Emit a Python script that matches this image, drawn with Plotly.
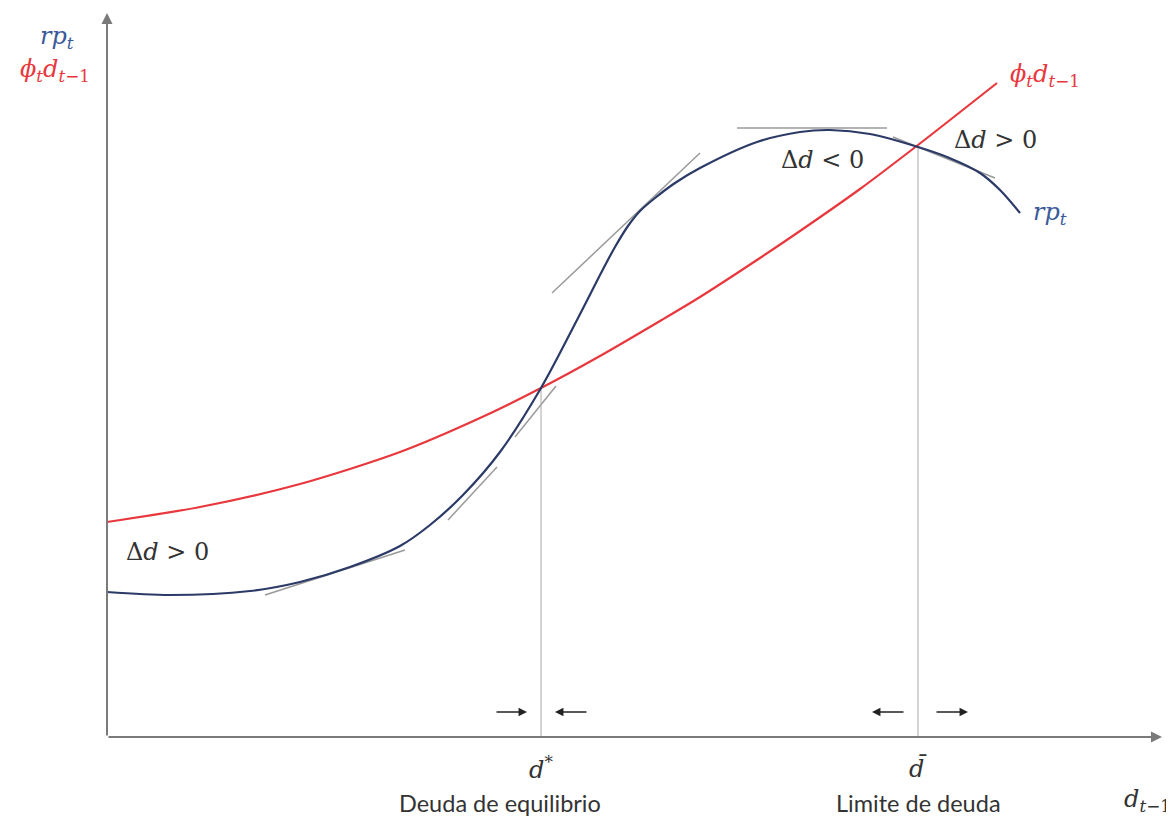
import plotly.graph_objects as go

# Chart units: x = debt d_{t-1}, y = value (origin at axes intersection)
red_x = [0.00, 0.93, 1.93, 2.93, 3.73, 4.34, 4.93, 5.53, 5.93, 6.53, 6.93, 7.53, 8.11, 8.90]
red_y = [2.15, 2.30, 2.53, 2.85, 3.19, 3.49, 3.81, 4.16, 4.40, 4.79, 5.06, 5.48, 5.92, 6.54]

blue_x = [0.00, 0.63, 1.43, 1.93, 2.43, 2.93, 3.23, 3.56, 3.93, 4.34, 4.70, 4.93, 5.08, 5.21,
          5.33, 5.48, 5.68, 5.93, 6.50, 6.93, 7.23, 7.63, 8.11, 8.40, 8.73, 8.93, 9.13]
blue_y = [1.45, 1.42, 1.46, 1.55, 1.70, 1.91, 2.12, 2.42, 2.85, 3.49, 4.17, 4.62, 4.90, 5.11,
          5.26, 5.39, 5.54, 5.69, 5.95, 6.05, 6.07, 6.03, 5.90, 5.80, 5.64, 5.47, 5.24]

# tangent segments (start x, start y, end x, end y)
tangents = [
    (1.58, 1.42, 2.98, 1.87),
    (3.41, 2.17, 3.90, 2.70),
    (4.08, 3.00, 4.49, 3.51),
    (4.45, 4.44, 5.93, 5.84),
    (6.30, 6.09, 7.80, 6.09),
    (7.86, 6.00, 8.88, 5.59),
]

d_star = 4.34
d_bar = 8.11
rp_at_dstar = 3.49
rp_at_dbar = 5.90

blue = "#2b3a67"
red = "#e8383d"
gray = "#9a9a9a"
axis_col = "#7a7a7a"

fig = go.Figure()

for (x0, y0, x1, y1) in tangents:
    fig.add_trace(go.Scatter(x=[x0, x1], y=[y0, y1], mode="lines",
                             line=dict(color=gray, width=1.5), hoverinfo="skip"))

fig.add_trace(go.Scatter(x=[d_star, d_star], y=[0, rp_at_dstar], mode="lines",
                         line=dict(color="#a8a8a8", width=1), hoverinfo="skip"))
fig.add_trace(go.Scatter(x=[d_bar, d_bar], y=[0, rp_at_dbar], mode="lines",
                         line=dict(color="#a8a8a8", width=1), hoverinfo="skip"))

fig.add_trace(go.Scatter(x=red_x, y=red_y, mode="lines",
                         line=dict(color=red, width=2.2, shape="spline", smoothing=0.8), hoverinfo="skip"))
fig.add_trace(go.Scatter(x=blue_x, y=blue_y, mode="lines",
                         line=dict(color=blue, width=2.2, shape="spline", smoothing=0.9), hoverinfo="skip"))

ann = []
# axes with arrowheads
ann.append(dict(x=0, y=7.24, ax=0, ay=0, xref="x", yref="y", axref="x", ayref="y",
                showarrow=True, arrowhead=2, arrowsize=1.1, arrowwidth=2, arrowcolor=axis_col, text=""))
ann.append(dict(x=10.55, y=0, ax=0, ay=0, xref="x", yref="y", axref="x", ayref="y",
                showarrow=True, arrowhead=2, arrowsize=1.1, arrowwidth=2, arrowcolor=axis_col, text=""))

# small arrows near the x-axis
for (x0, x1) in [(3.88, 4.20), (4.81, 4.48), (7.98, 7.65), (8.28, 8.61)]:
    ann.append(dict(x=x1, y=0.25, ax=x0, ay=0.25, xref="x", yref="y", axref="x", ayref="y",
                    showarrow=True, arrowhead=2, arrowsize=1.3, arrowwidth=1.3, arrowcolor="#222", text=""))

serif = "DejaVu Serif"
sans = "Lato"

def lab(x, y, text, color="#333", size=24, font=serif, xanchor="center"):
    ann.append(dict(x=x, y=y, xref="x", yref="y", text=text, showarrow=False,
                    font=dict(family=font, size=size, color=color), xanchor=xanchor, yanchor="middle"))

rp = "<i>rp</i><sub><i>t</i></sub>"
phi = "<i>ϕ</i><sub><i>t</i></sub><i>d</i><sub><i>t</i>−1</sub>"
gt = "Δ<i>d</i>&nbsp;&gt;&nbsp;0"
lt = "Δ<i>d</i>&nbsp;&lt;&nbsp;0"

lab(-0.50, 7.00, rp, color="#3b5a9a")
lab(-0.52, 6.67, phi, color=red)
lab(9.38, 6.62, phi, color=red)
lab(8.88, 5.97, gt)
lab(9.43, 5.24, rp, color="#3b5a9a")
lab(7.15, 5.77, lt)
lab(0.60, 1.85, gt)
lab(d_star, -0.31, "<i>d</i><sup>*</sup>")
lab(d_bar, -0.31, "<i>d̄</i>")
lab(10.40, -0.63, "<i>d</i><sub><i>t</i>−1</sub>")
lab(3.93, -0.66, "Deuda de equilibrio", size=23.5, font=sans)
lab(d_bar, -0.66, "Limite de deuda", size=23.5, font=sans)

# page body has an 8px margin; size the figure so it fills the remaining window
fig.update_layout(
    width=1166, height=809, margin=dict(l=0, r=0, t=0, b=0),
    paper_bgcolor="white", plot_bgcolor="white", showlegend=False,
    xaxis=dict(range=[-0.99, 10.67], visible=False, fixedrange=True),
    yaxis=dict(range=[-0.80, 7.29], visible=False, fixedrange=True),
    annotations=ann,
)

fig.write_html("out.html")
